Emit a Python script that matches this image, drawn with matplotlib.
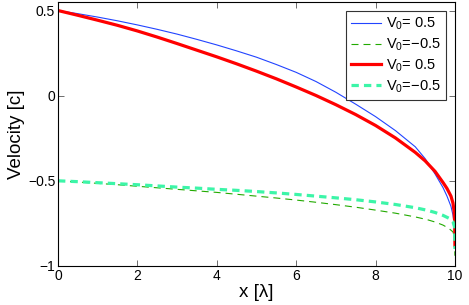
import numpy as np
from matplotlib import pyplot as plt

plt.rcParams['font.family'] = ['Liberation Sans', 'DejaVu Sans']
plt.rcParams['mathtext.fontset'] = 'custom'
plt.rcParams['mathtext.rm'] = 'Liberation Sans'
plt.rcParams['mathtext.it'] = 'Liberation Sans:italic'

# values
x_blue = [0, 0.5, 1, 1.5, 2, 2.5, 3, 3.5, 4, 4.5, 5, 5.5, 6, 6.5, 7, 7.5, 8,
          8.5, 9, 9.25, 9.5, 9.7, 9.8, 9.9, 9.95, 9.98, 10]
v_blue = [0.5, 0.4815, 0.4615, 0.4395, 0.4155, 0.3895, 0.3615, 0.3305, 0.298,
          0.263, 0.226, 0.183, 0.137, 0.083, 0.02, -0.05, -0.123, -0.205, -0.30,
          -0.37, -0.46, -0.54, -0.59, -0.65, -0.70, -0.75, -0.88]

x_red = [0, 0.5, 1, 1.5, 2, 2.5, 3, 3.5, 4, 4.5, 5, 5.5, 6, 6.5, 7, 7.5, 8,
         8.5, 9, 9.25, 9.5, 9.7, 9.8, 9.9, 9.95, 9.98, 9.995, 10]
v_red = [0.5, 0.472, 0.443, 0.413, 0.38, 0.344, 0.306, 0.267, 0.228, 0.187,
         0.144, 0.099, 0.051, 0.001, -0.053, -0.111, -0.175, -0.248, -0.333,
         -0.383, -0.445, -0.51, -0.545, -0.59, -0.63, -0.68, -0.75, -0.88]

x_green = [0, 0.5, 1, 1.5, 2, 2.5, 3, 3.5, 4, 4.5, 5, 5.5, 6, 6.5, 7, 7.5, 8,
           8.5, 9, 9.3, 9.5, 9.7, 9.85, 9.95, 9.99, 10]
v_green = [-0.5, -0.507, -0.515, -0.523, -0.532, -0.541, -0.55, -0.559, -0.568,
           -0.579, -0.59, -0.601, -0.613, -0.626, -0.64, -0.655, -0.672, -0.69,
           -0.712, -0.728, -0.742, -0.76, -0.78, -0.80, -0.83, -0.94]

x_cyan = x_green
v_cyan = [-0.5, -0.505, -0.511, -0.517, -0.523, -0.53, -0.537, -0.543, -0.55,
          -0.556, -0.563, -0.571, -0.58, -0.59, -0.60, -0.611, -0.624, -0.639,
          -0.658, -0.673, -0.686, -0.703, -0.72, -0.74, -0.77, -0.9]

labels = ['V$_0$= 0.5', 'V$_0$=\u22120.5', 'V$_0$= 0.5', 'V$_0$=\u22120.5']

fig = plt.figure(figsize=(4.69, 3.05), dpi=100)
ax = fig.add_axes([0.1237, 0.128, 0.8463, 0.8654])

ax.plot(x_blue, v_blue, color='#2244ff', lw=0.8, label=labels[0])
ax.plot(x_green, v_green, color='#22aa00', lw=0.8, dashes=(6.3, 4.5), label=labels[1])
ax.plot(x_red, v_red, color='#ff0000', lw=2.3, label=labels[2])
ax.plot(x_cyan, v_cyan, color='#3cf5a8', lw=2.3, dashes=(2.3, 1.6), label=labels[3])

ax.set_xlim(0, 10)
ax.set_ylim(-1, 0.55)
ax.set_xticks([0, 2, 4, 6, 8, 10])
ax.set_yticks([-1, -0.5, 0, 0.5])
ax.set_yticklabels(['\u22121', '\u22120.5', '0', '0.5'])
ax.tick_params(direction='in', top=True, right=True, labelsize=10, length=4,
               width=0.6, color='#555555', pad=2)
for s in ax.spines.values():
    s.set_linewidth(0.8)

ax.set_xlabel('x [\u03bb]', fontsize=13.5, labelpad=1)
ax.set_ylabel('Velocity [c]', fontsize=13.5, labelpad=2)

leg = ax.legend(loc='upper right', fontsize=10.5, fancybox=False, framealpha=1,
                borderaxespad=0.6, handlelength=2.1, handletextpad=0.35,
                labelspacing=0.3, borderpad=0.35)
leg.get_frame().set_edgecolor('#333333')
leg.get_frame().set_linewidth(0.8)

plt.savefig('out.png', dpi=100)
